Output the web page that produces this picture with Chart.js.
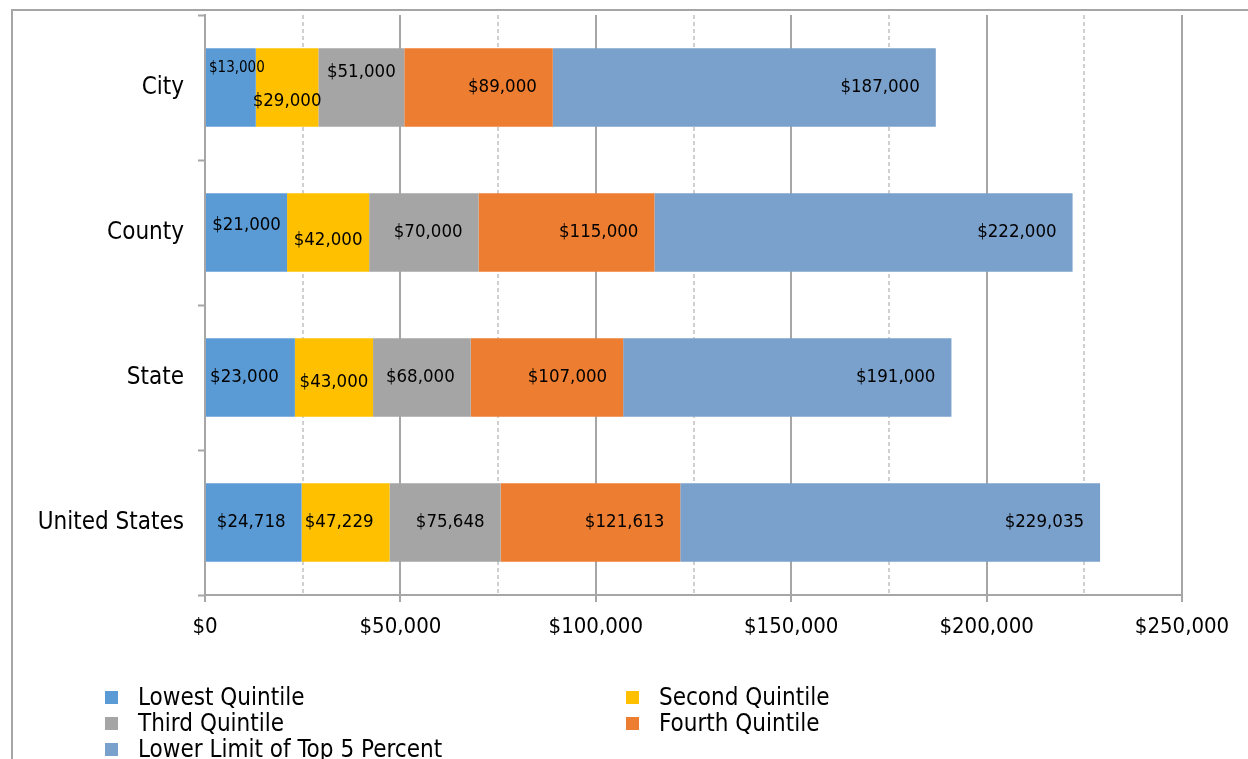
<!DOCTYPE html>
<html lang="en">
<head>
<meta charset="UTF-8" />
<script src="https://cdn.jsdelivr.net/npm/chart.js@4.4.1/dist/chart.umd.min.js"></script>
<title>Income quintile limits</title>
<style>
  body { margin: 0; background: #fff; font-family: "DejaVu Sans Condensed", "DejaVu Sans", sans-serif; }
  #wrap { position: relative; width: 1248px; height: 759px; overflow: hidden; }
  #frame { position: absolute; left: 11px; top: 9px; width: 1300px; height: 820px; border: 2px solid #a6a6a6; box-sizing: border-box; }
  #myChart { position: absolute; left: 0; top: 0; }
  .lg { position: absolute; font-size: 24px; line-height: 26px; color: #000; white-space: nowrap; }
  .lg span { position: absolute; left: 0; top: 7px; width: 13px; height: 13px; }
  .lg b { font-weight: normal; position: absolute; left: 33px; top: 0; }
</style>
</head>
<body>
<div id="wrap">
  <div id="frame"></div>
  <canvas id="myChart" width="1248" height="759"></canvas>
  <div id="legend"></div>
</div>
<script>
  const areas = ["City", "County", "State", "United States"];
  const lowest = [13000, 21000, 23000, 24718];
  const second = [29000, 42000, 43000, 47229];
  const third = [51000, 70000, 68000, 75648];
  const fourth = [89000, 115000, 107000, 121613];
  const top5 = [187000, 222000, 191000, 229035];
  const seriesNames = ["Lowest Quintile", "Second Quintile", "Third Quintile", "Fourth Quintile", "Lower Limit of Top 5 Percent"];
  const xTicks = [0, 50000, 100000, 150000, 200000, 250000];

  const colors = ["#5b9bd5", "#ffc000", "#a5a5a5", "#ed7d31", "#7aa0cc"];
  const series = [lowest, second, third, fourth, top5];
  const FONT = '"DejaVu Sans Condensed", "DejaVu Sans", sans-serif';

  // manual label nudges, like the hand-placed ones in the original
  const labelTweaks = {
    "0,0": { dy: -19, size: 15, left: true },
    "1,0": { dy: 14 },
    "2,0": { dy: -15 },
    "0,1": { dy: -7 },
    "1,1": { dy: 8 },
    "1,2": { dy: 5 }
  };

  const money = (v) => "$" + v.toLocaleString("en-US");

  // each segment runs from the previous limit to its own limit
  const datasets = series.map((vals, k) => ({
    label: seriesNames[k],
    data: vals.map((v, i) => [k === 0 ? 0 : series[k - 1][i], v]),
    backgroundColor: colors[k],
    borderWidth: 0,
    grouped: false,
    barPercentage: 0.54,
    categoryPercentage: 1
  }));

  const minorGrid = {
    id: "minorGrid",
    beforeDatasetsDraw(chart) {
      const { ctx, chartArea, scales } = chart;
      ctx.save();
      ctx.strokeStyle = "#d0d0d0";
      ctx.lineWidth = 2;
      ctx.setLineDash([4, 3]);
      for (let v = 25000; v < 250000; v += 50000) {
        const x = Math.round(scales.x.getPixelForValue(v));
        ctx.beginPath();
        ctx.moveTo(x, chartArea.top);
        ctx.lineTo(x, chartArea.bottom);
        ctx.stroke();
      }
      ctx.restore();
    }
  };

  const barLabels = {
    id: "barLabels",
    afterDatasetsDraw(chart) {
      const ctx = chart.ctx;
      ctx.save();
      ctx.fillStyle = "#000";
      ctx.textBaseline = "middle";
      chart.data.datasets.forEach((ds, k) => {
        chart.getDatasetMeta(k).data.forEach((el, i) => {
          const tw = labelTweaks[k + "," + i] || {};
          ctx.font = (tw.size || 18.5) + "px " + FONT;
          const txt = money(series[k][i]);
          const w = ctx.measureText(txt).width;
          const start = el.base, end = el.x;
          let left = end - 16 - w;
          if (tw.left) left = start + 3;
          else if (left < start + 2) left = (start + end) / 2 - w / 2;
          ctx.textAlign = "left";
          ctx.fillText(txt, left, el.y + (tw.dy || 0));
        });
      });
      ctx.restore();
    }
  };

  const chart = new Chart("myChart", {
    type: "bar",
    data: { labels: areas, datasets: datasets },
    options: {
      indexAxis: "y",
      responsive: false,
      animation: false,
      devicePixelRatio: 1,
      layout: { padding: { top: 15, right: 66, bottom: 124, left: 0 } },
      plugins: { legend: { display: false }, tooltip: { enabled: false } },
      scales: {
        x: {
          min: 0,
          max: 250000,
          afterBuildTicks: (s) => { s.ticks = xTicks.map((v) => ({ value: v })); },
          afterFit: (s) => { s.height = 40; },
          ticks: { callback: (v) => money(v), color: "#000", font: { family: FONT, size: 22 }, padding: 12, maxRotation: 0 },
          grid: { color: "#a6a6a6", lineWidth: 2, tickLength: 7, tickColor: "#a6a6a6", tickWidth: 2 },
          border: { color: "#a6a6a6", width: 2 }
        },
        y: {
          afterFit: (s) => { s.width = 205; s.paddingTop = 0; s.paddingBottom = 0; },
          ticks: { color: "#000", font: { family: FONT, size: 24 }, padding: 14 },
          grid: { offset: true, drawOnChartArea: false, tickLength: 7, tickColor: "#a6a6a6", tickWidth: 2 },
          border: { color: "#a6a6a6", width: 2 }
        }
      }
    },
    plugins: [minorGrid, barLabels]
  });

  // legend in two columns under the plot
  const legend = document.getElementById("legend");
  const colX = [105, 626];
  seriesNames.forEach((name, k) => {
    const item = document.createElement("div");
    item.className = "lg";
    item.style.left = colX[k % 2] + "px";
    item.style.top = (684 + Math.floor(k / 2) * 26) + "px";
    item.innerHTML = '<span style="background:' + colors[k] + '"></span><b>' + name + "</b>";
    legend.appendChild(item);
  });
</script>
</body>
</html>
